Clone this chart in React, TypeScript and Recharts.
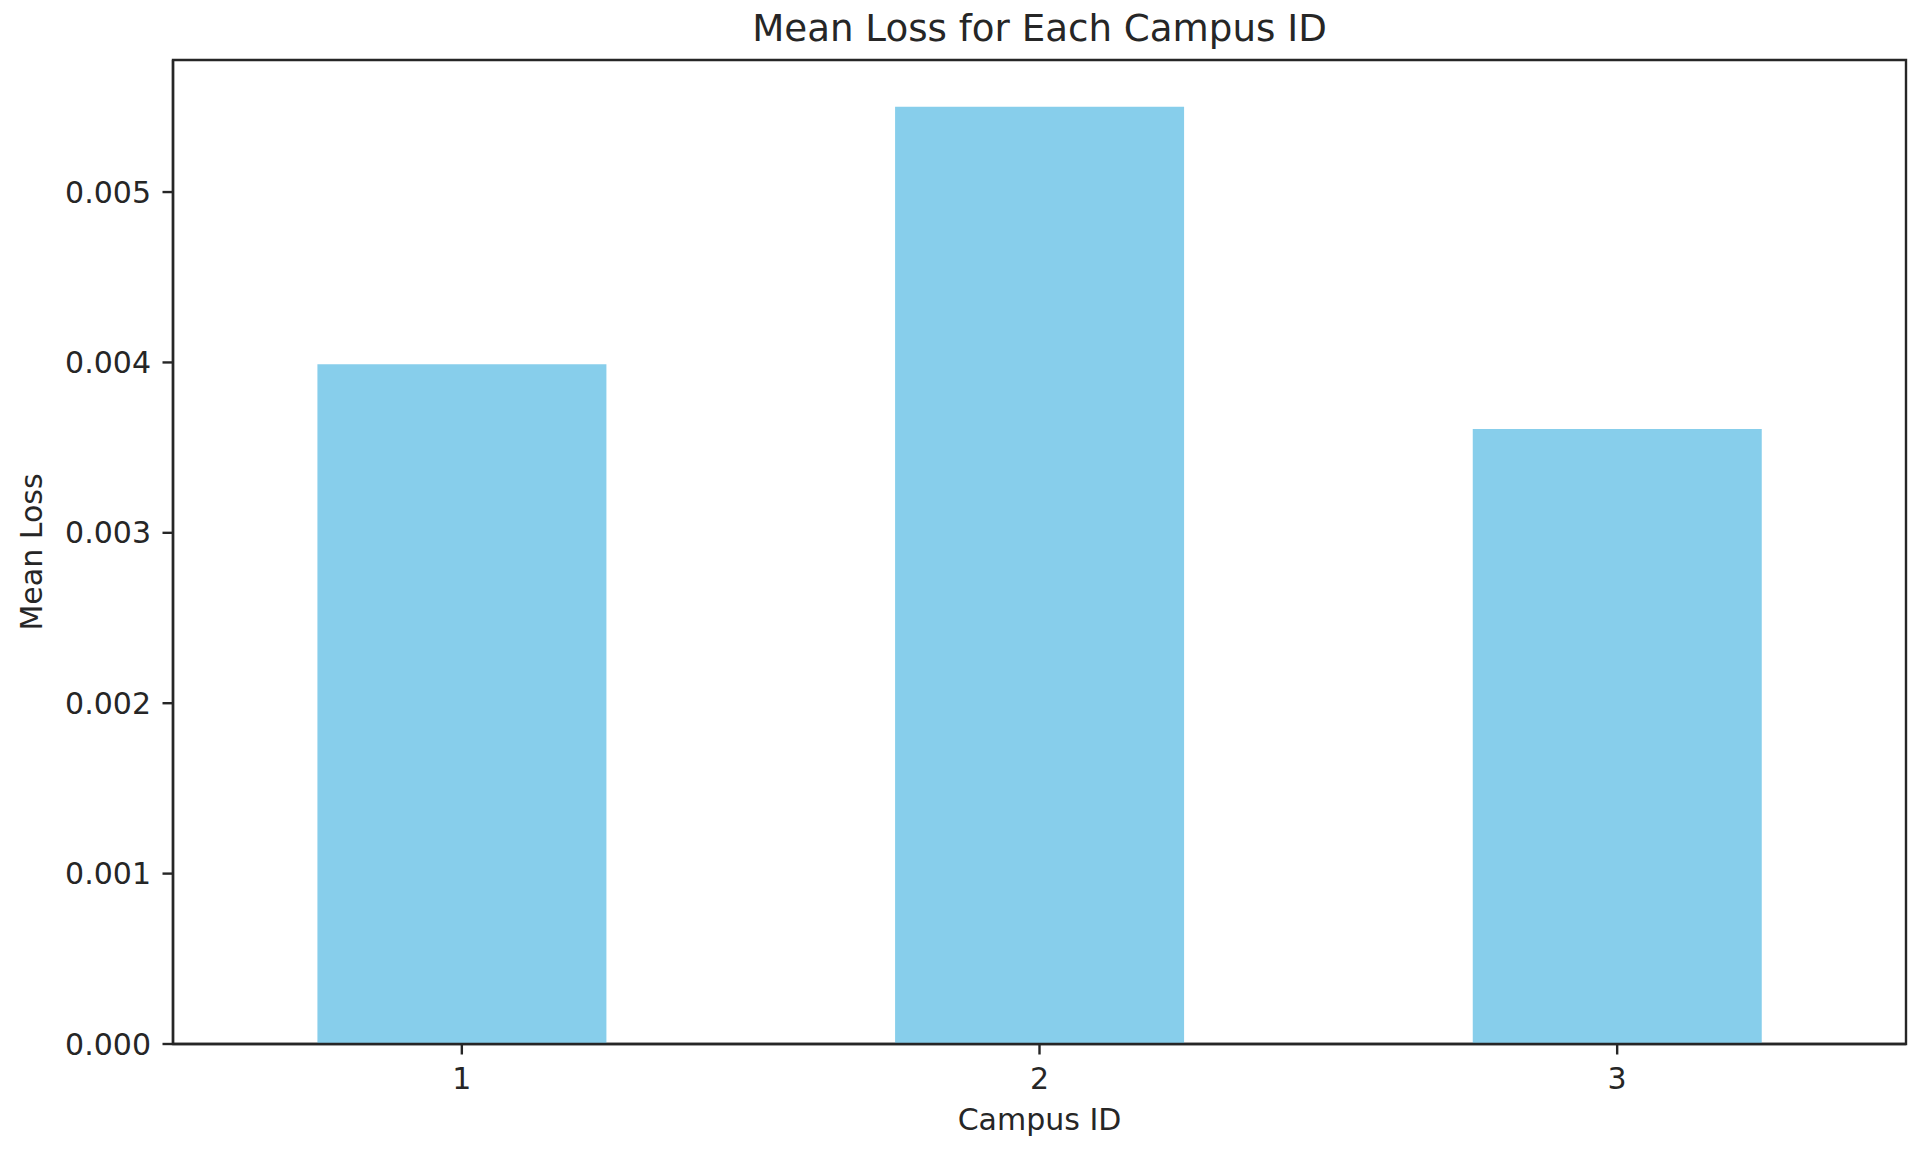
import React from 'react';
import { BarChart, Bar, XAxis, YAxis, ReferenceArea } from 'recharts';

// ---- data ----
const campusIds = ['1', '2', '3'];
const meanLoss = [0.00399, 0.0055, 0.00361];
const yTicks = [0, 0.001, 0.002, 0.003, 0.004, 0.005];
const yMax = 0.005775;

const titleText = 'Mean Loss for Each Campus ID';
const xLabelText = 'Campus ID';
const yLabelText = 'Mean Loss';

const data = campusIds.map((id, i) => ({ id, loss: meanLoss[i] }));

// ---- styles ----
const FONT = '"DejaVu Sans", sans-serif';
const INK = '#262626';
const LW = 2.4;
const BAR = '#87CEEB';

const TitleLabel = (props: any) => {
  const vb = props.viewBox || { x: 173, y: 60, width: 1733, height: 984 };
  return (
    <text
      x={vb.x + vb.width / 2}
      y={vb.y - 19}
      textAnchor="middle"
      fontFamily={FONT}
      fontSize={37.2}
      fill={INK}
    >
      {titleText}
    </text>
  );
};

const XLabel = (props: any) => {
  const vb = props.viewBox || { x: 173, y: 1044, width: 1733, height: 107 };
  return (
    <text
      x={vb.x + vb.width / 2}
      y={vb.y + 86}
      textAnchor="middle"
      fontFamily={FONT}
      fontSize={30}
      fill={INK}
    >
      {xLabelText}
    </text>
  );
};

const YLabel = (props: any) => {
  const vb = props.viewBox || { x: 0, y: 60, width: 173, height: 984 };
  const cx = vb.x + 42;
  const cy = vb.y + vb.height / 2;
  return (
    <text
      x={cx}
      y={cy}
      transform={`rotate(-90 ${cx} ${cy})`}
      textAnchor="middle"
      fontFamily={FONT}
      fontSize={30}
      fill={INK}
    >
      {yLabelText}
    </text>
  );
};

export default function App() {
  return (
    <div
      style={{
        position: 'absolute',
        left: 0,
        top: 0,
        width: 1920,
        height: 1151,
        background: '#ffffff',
      }}
    >
      <BarChart
        width={1920}
        height={1151}
        data={data}
        margin={{ top: 60, right: 14, bottom: 0, left: 0 }}
        barCategoryGap="25%"
      >
        <XAxis
          xAxisId="bottom"
          dataKey="id"
          type="category"
          height={107}
          interval={0}
          tickSize={10.5}
          tickMargin={13}
          tick={{ fontSize: 30, fill: INK, fontFamily: FONT }}
          tickLine={{ stroke: INK, strokeWidth: LW }}
          axisLine={{ stroke: INK, strokeWidth: LW }}
          label={<XLabel />}
        />
        <YAxis
          yAxisId="left"
          type="number"
          width={173}
          domain={[0, yMax]}
          ticks={yTicks}
          interval={0}
          tickFormatter={(v: number) => v.toFixed(3)}
          tickSize={10.5}
          tickMargin={11.5}
          tick={{ fontSize: 30, fill: INK, fontFamily: FONT }}
          tickLine={{ stroke: INK, strokeWidth: LW }}
          axisLine={{ stroke: INK, strokeWidth: LW }}
          label={<YLabel />}
        />
        <Bar
          xAxisId="bottom"
          yAxisId="left"
          dataKey="loss"
          fill={BAR}
          isAnimationActive={false}
        />
        <ReferenceArea
          xAxisId="bottom"
          yAxisId="left"
          y1={0}
          y2={yMax}
          fill="none"
          fillOpacity={0}
          stroke={INK}
          strokeWidth={LW}
          strokeOpacity={1}
          ifOverflow="visible"
          label={<TitleLabel />}
        />
      </BarChart>
    </div>
  );
}
